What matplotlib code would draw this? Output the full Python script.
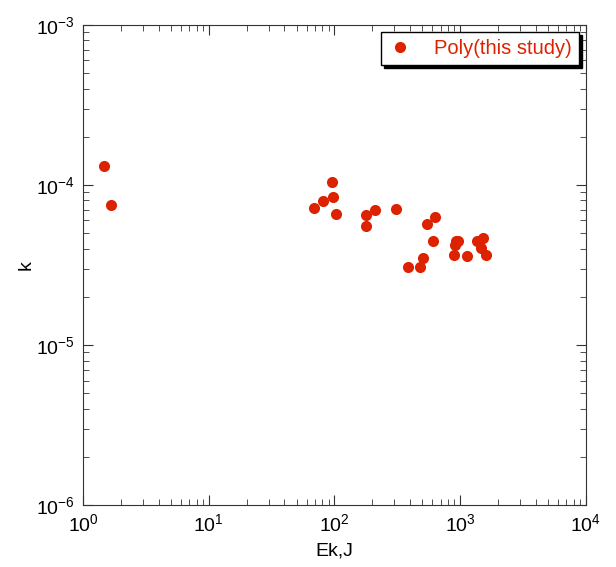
import matplotlib
matplotlib.use("Agg")
import matplotlib.pyplot as plt
from matplotlib.ticker import LogLocator, NullFormatter

plt.rcParams['font.family'] = ['Liberation Sans', 'DejaVu Sans']
plt.rcParams['mathtext.fontset'] = 'custom'
plt.rcParams['mathtext.rm'] = 'Liberation Sans'

ek = [1.47, 1.67, 96, 81.5, 96.8, 68.7, 102.8, 178, 211, 177, 308, 630, 540, 604,
      386, 476, 503, 920, 966, 908, 891, 1125, 1367, 1525, 1462, 1611]
k = [1.31e-4, 7.5e-5, 1.04e-4, 7.98e-5, 8.37e-5, 7.21e-5, 6.56e-5, 6.49e-5, 7.02e-5,
     5.52e-5, 7.11e-5, 6.31e-5, 5.70e-5, 4.49e-5, 3.06e-5, 3.07e-5, 3.48e-5, 4.47e-5,
     4.44e-5, 4.24e-5, 3.65e-5, 3.61e-5, 4.44e-5, 4.66e-5, 4.06e-5, 3.63e-5]
series_label = "Poly(this study)"
red = '#dd2200'

fig = plt.figure(figsize=(6.16, 5.67), dpi=100)
ax = fig.add_axes([0.1347, 0.1093, 0.8165, 0.8467])
ax.plot(ek, k, 'o', color=red, markersize=8, markeredgewidth=0, label=series_label)
ax.set_xscale('log')
ax.set_yscale('log')
ax.set_xlim(1, 1e4)
ax.set_ylim(1e-6, 1e-3)
ax.xaxis.set_major_locator(LogLocator(base=10, numticks=10))
ax.yaxis.set_major_locator(LogLocator(base=10, numticks=10))
ax.xaxis.set_minor_locator(LogLocator(base=10, subs=range(2, 10), numticks=20))
ax.yaxis.set_minor_locator(LogLocator(base=10, subs=range(2, 10), numticks=20))
ax.xaxis.set_minor_formatter(NullFormatter())
ax.yaxis.set_minor_formatter(NullFormatter())
ax.tick_params(which='both', direction='in', top=True, right=True, color='#333333')
ax.tick_params(which='major', length=7, labelsize=14, pad=6)
ax.tick_params(which='minor', length=4)
for s in ax.spines.values():
    s.set_color('#333333')
ax.set_xlabel('Ek,J', fontsize=14, labelpad=5)
ax.set_ylabel('k', fontsize=14, labelpad=1)

leg = ax.legend(loc='upper right', fontsize=14.5, frameon=True, fancybox=False,
                shadow={'color': 'black', 'alpha': 1.0}, borderaxespad=0.35,
                handletextpad=1.1, handlelength=1.2, borderpad=0.35)
leg.get_frame().set_edgecolor('black')
leg.get_frame().set_linewidth(1.0)
for t in leg.get_texts():
    t.set_color(red)

fig.savefig('out.png', dpi=100)
